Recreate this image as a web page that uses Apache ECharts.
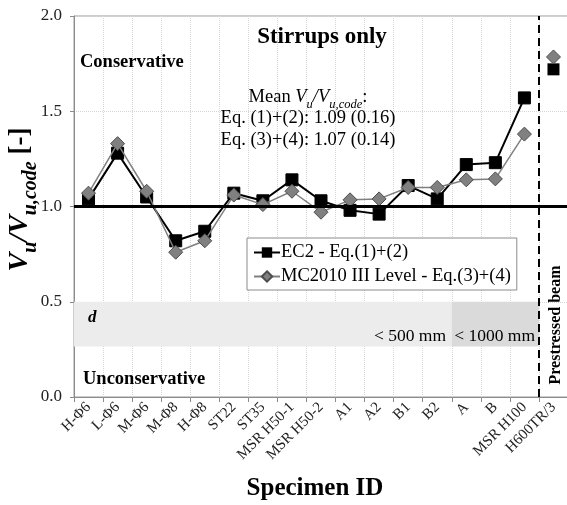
<!DOCTYPE html>
<html>
<head>
<meta charset="utf-8">
<script src="https://cdn.jsdelivr.net/npm/echarts@6/dist/echarts.min.js"></script>
<style>
html, body { margin: 0; padding: 0; background: #fff; }
#main { width: 567px; height: 505px; }
</style>
</head>
<body>
<div id="main"></div>
<script>
var categories = ['H-Φ6', 'L-Φ6', 'M-Φ6', 'M-Φ8', 'H-Φ8', 'ST22', 'ST35', 'MSR H50-1', 'MSR H50-2',
	'A1', 'A2', 'B1', 'B2', 'A', 'B', 'MSR H100', 'H600TR/3'];
var ec2Values = [1.04, 1.28, 1.05, 0.82, 0.87, 1.07, 1.03, 1.14, 1.03, 0.98, 0.96, 1.11, 1.04, 1.22, 1.23, 1.57, '-'];
var mc2010Values = [1.07, 1.33, 1.08, 0.76, 0.82, 1.06, 1.01, 1.08, 0.97, 1.035, 1.04, 1.10, 1.10, 1.14, 1.145, 1.38, '-'];
var prestressedEc2 = 1.72;
var prestressedMc2010 = 1.785;
var yTicks = [0, 0.5, 1.0, 1.5, 2.0];
var seriesNames = ['EC2 - Eq.(1)+(2)', 'MC2010 III Level - Eq.(3)+(4)'];

var serif = "'Liberation Serif', 'Times New Roman', serif";
var myChart = echarts.init(document.getElementById('main'));

var option = {
	animation: false,
	backgroundColor: '#fff',
	grid: {
		left: 74,
		top: 16,
		width: 494,
		height: 381,
		containLabel: false,
		outerBoundsMode: 'none',
		show: true,
		borderColor: '#9a9a9a',
		borderWidth: 1
	},
	legend: {
		orient: 'vertical',
		left: 247,
		top: 238,
		data: seriesNames,
		backgroundColor: '#fff',
		borderColor: '#8c8c8c',
		borderWidth: 1,
		padding: [5, 6, 4, 6],
		itemGap: 5,
		itemWidth: 26,
		itemHeight: 13,
		textStyle: {
			fontFamily: serif,
			fontSize: 18.5,
			color: '#000',
			padding: [0, 0, 0, -4]
		}
	},
	xAxis: [{
		type: 'category',
		data: categories,
		name: 'Specimen ID',
		nameLocation: 'middle',
		nameGap: 79,
		nameMoveOverlap: false,
		nameTextStyle: {
			fontFamily: serif,
			fontSize: 25,
			fontWeight: 'bold',
			color: '#000',
			padding: [0, 12, 0, 0]
		},
		axisLine: { lineStyle: { color: '#8c8c8c', width: 1 } },
		axisTick: { show: true, length: 5, lineStyle: { color: '#8c8c8c' } },
		axisLabel: {
			rotate: 45,
			margin: 8,
			interval: 0,
			fontFamily: serif,
			fontSize: 15,
			color: '#222'
		},
		splitLine: { show: true, lineStyle: { color: '#d6d6d6', type: 'dotted' } }
	}, {
		// helper axis, 0..17 across the category bands, for region boundaries
		type: 'value',
		min: 0,
		max: 17,
		show: false
	}],
	yAxis: {
		type: 'value',
		min: yTicks[0],
		max: yTicks[yTicks.length - 1],
		interval: 0.5,
		name: '{i|V}{s|u}{i|/V}{s|u,code}{n| [-]}',
		nameLocation: 'middle',
		nameGap: 38,
		nameMoveOverlap: false,
		nameTextStyle: {
			fontFamily: serif,
			color: '#000',
			padding: [0, 0, 0, 14],
			rich: {
				i: { fontFamily: serif, fontSize: 28, fontWeight: 'bold', fontStyle: 'italic', color: '#000', lineHeight: 32 },
				s: { fontFamily: serif, fontSize: 20, fontWeight: 'bold', fontStyle: 'italic', color: '#000', verticalAlign: 'bottom', lineHeight: 32, padding: [0, 0, -5, 0] },
				n: { fontFamily: serif, fontSize: 27, fontWeight: 'bold', color: '#000', lineHeight: 32 }
			}
		},
		axisLine: { show: true, lineStyle: { color: '#8c8c8c', width: 1 } },
		axisTick: { show: true, length: 4, lineStyle: { color: '#8c8c8c' } },
		axisLabel: {
			margin: 12,
			fontFamily: serif,
			fontSize: 17,
			color: '#222',
			formatter: function (v) { return v.toFixed(1); }
		},
		splitLine: { show: true, lineStyle: { color: '#d6d6d6', type: 'dotted' } }
	},
	series: [{
		// d bands, 1.0 reference line, prestressed divider
		type: 'line',
		xAxisIndex: 1,
		yAxisIndex: 0,
		data: [],
		silent: true,
		z: 1,
		markArea: {
			silent: true,
			label: { show: false },
			data: [
				[{ xAxis: 0, yAxis: 0.265, itemStyle: { color: '#ececec' } }, { xAxis: 13, yAxis: 0.5 }],
				[{ xAxis: 13, yAxis: 0.265, itemStyle: { color: '#dadada' } }, { xAxis: 16, yAxis: 0.5 }]
			]
		},
		markLine: {
			silent: true,
			symbol: 'none',
			label: { show: false },
			data: [
				{ yAxis: 1.0, lineStyle: { color: '#000', width: 3, type: 'solid' } },
				{ xAxis: 16, lineStyle: { color: '#000', width: 2, type: [8, 5] } }
			]
		}
	}, {
		name: seriesNames[0],
		type: 'line',
		data: ec2Values,
		symbol: 'rect',
		symbolSize: 12,
		z: 3,
		lineStyle: { color: '#000', width: 2 },
		itemStyle: { color: '#000', borderColor: '#000' }
	}, {
		name: seriesNames[1],
		type: 'line',
		data: mc2010Values,
		symbol: 'diamond',
		symbolSize: 14,
		z: 4,
		lineStyle: { color: '#808080', width: 1.5 },
		itemStyle: { color: '#808080', borderColor: '#4d4d4d', borderWidth: 1 }
	}, {
		name: seriesNames[0],
		type: 'scatter',
		data: [['H600TR/3', prestressedEc2]],
		symbol: 'rect',
		symbolSize: 12,
		z: 3,
		itemStyle: { color: '#000', opacity: 1 }
	}, {
		name: seriesNames[1],
		type: 'scatter',
		data: [['H600TR/3', prestressedMc2010]],
		symbol: 'diamond',
		symbolSize: 14,
		z: 4,
		itemStyle: { color: '#808080', borderColor: '#4d4d4d', borderWidth: 1, opacity: 1 }
	}],
	graphic: [
		{ type: 'text', z: 10, x: 322, y: 37, style: { text: 'Stirrups only', font: 'bold 23px ' + serif, fill: '#000', align: 'center', verticalAlign: 'middle' } },
		{ type: 'text', z: 10, x: 80, y: 62, style: { text: 'Conservative', font: 'bold 18.5px ' + serif, fill: '#000', align: 'left', verticalAlign: 'middle' } },
		{ type: 'text', z: 10, x: 83, y: 379, style: { text: 'Unconservative', font: 'bold 18.5px ' + serif, fill: '#000', align: 'left', verticalAlign: 'middle' } },
		{
			type: 'text', z: 10, x: 308, y: 97,
			style: {
				text: '{r|Mean }{i|V}{s|u}{i|/V}{s|u,code}{r|:}',
				align: 'center', verticalAlign: 'middle', fill: '#000',
				rich: {
					r: { fontFamily: serif, fontSize: 18.5, fill: '#000', lineHeight: 22 },
					i: { fontFamily: serif, fontSize: 18.5, fontStyle: 'italic', fill: '#000', lineHeight: 22 },
					s: { fontFamily: serif, fontSize: 12.5, fontStyle: 'italic', fill: '#000', verticalAlign: 'bottom', lineHeight: 22, padding: [0, 0, -3, 0] }
				}
			}
		},
		{ type: 'text', z: 10, x: 308, y: 118, style: { text: 'Eq. (1)+(2): 1.09 (0.16)', font: '18.5px ' + serif, fill: '#000', align: 'center', verticalAlign: 'middle' } },
		{ type: 'text', z: 10, x: 308, y: 140, style: { text: 'Eq. (3)+(4): 1.07 (0.14)', font: '18.5px ' + serif, fill: '#000', align: 'center', verticalAlign: 'middle' } },
		{ type: 'text', z: 10, x: 88, y: 318, style: { text: 'd', font: 'italic bold 17px ' + serif, fill: '#000', align: 'left', verticalAlign: 'middle' } },
		{ type: 'text', z: 10, x: 446, y: 336, style: { text: '< 500 mm', font: '17.5px ' + serif, fill: '#000', align: 'right', verticalAlign: 'middle' } },
		{ type: 'text', z: 10, x: 535, y: 336, style: { text: '< 1000 mm', font: '17.5px ' + serif, fill: '#000', align: 'right', verticalAlign: 'middle' } },
		{ type: 'text', z: 10, x: 556, y: 325, rotation: Math.PI / 2, style: { text: 'Prestressed beam', font: 'bold 16px ' + serif, fill: '#000', align: 'center', verticalAlign: 'middle' } }
	]
};

myChart.setOption(option);
</script>
</body>
</html>
